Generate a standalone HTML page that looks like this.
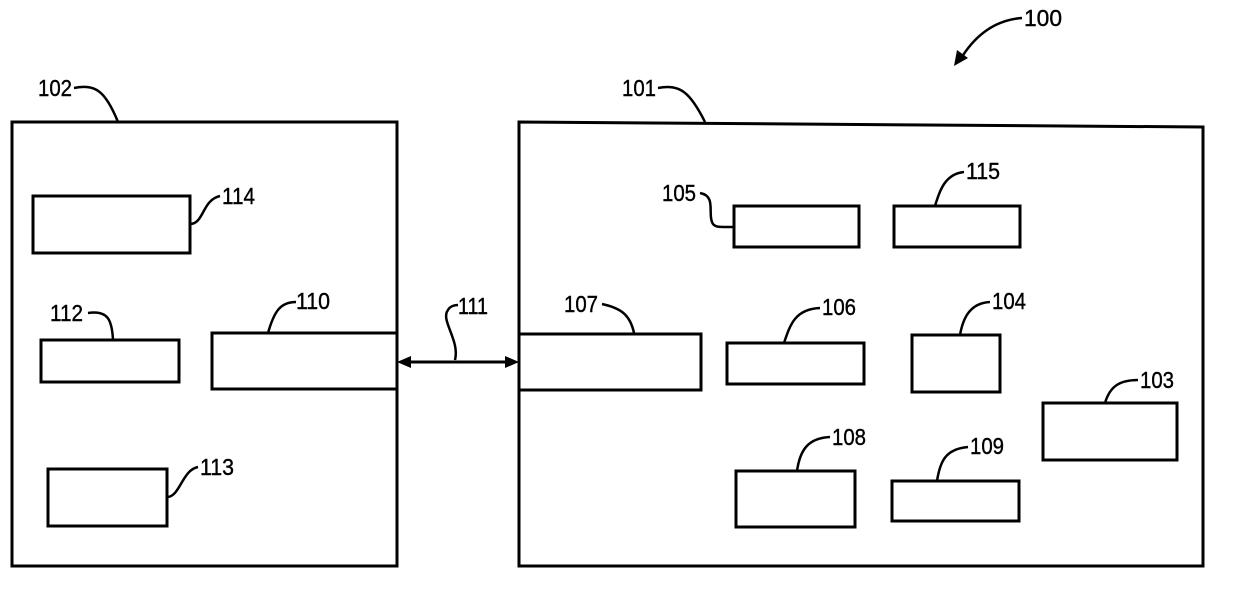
<!DOCTYPE html>
<html><head><style>body{margin:0;background:#fff}svg{display:block}text{font-family:"Liberation Sans",sans-serif;font-size:23px;fill:#000;stroke:#000;stroke-width:0.4}</style></head>
<body>
<svg width="1240" height="602" viewBox="0 0 1240 602" xmlns="http://www.w3.org/2000/svg">
<g fill="none" stroke="#000" stroke-width="3">
<rect x="12" y="122" width="385" height="444"/>
<polygon points="519,122 1203,127 1203,566 519,566"/>
<rect x="33" y="196" width="157" height="57"/>
<rect x="41" y="340" width="138" height="42"/>
<polyline points="397,333 212,333 212,389 397,389"/>
<rect x="48" y="469" width="119" height="57"/>
<polyline points="519,334 701,334 701,390 519,390"/>
<rect x="734" y="206" width="125" height="41"/>
<rect x="894" y="206" width="126" height="41"/>
<rect x="727" y="343" width="137" height="41"/>
<rect x="912" y="335" width="88" height="57"/>
<rect x="1043" y="403" width="134" height="57"/>
<rect x="736" y="471" width="119" height="56"/>
<rect x="892" y="481" width="127" height="40"/>
<g stroke-width="2.5">
<path d="M74,88 C95,84 105,90 118,122"/>
<path d="M658,88 C680,84 690,92 705,122"/>
<path d="M190,224 C204,224 202,200 220,196"/>
<path d="M88,313 C108,310 112,320 113,340"/>
<path d="M268,333 C274,312 280,302 296,302"/>
<path d="M455,360 C460,340 440,320 448,310 C450,306 455,305 458,305"/>
<path d="M634,333 C630,314 620,308 602,304"/>
<path d="M700,193 C716,196 708,212 712,222 C714,228 720,227 734,227"/>
<path d="M935,206 C940,190 945,174 964,172"/>
<path d="M784,343 C790,325 795,309 820,308"/>
<path d="M960,335 C963,318 970,303 990,302"/>
<path d="M1105,403 C1110,386 1120,380 1138,380"/>
<path d="M797,471 C800,450 808,438 830,437"/>
<path d="M937,481 C940,462 945,449 968,447"/>
<path d="M167,497 C180,497 182,470 198,467"/>
<path d="M1022,18 C995,20 975,35 960,60"/>
</g>
<line x1="402" y1="362" x2="514" y2="362"/>
</g>
<polygon points="397,362 411,356 411,368" fill="#000"/>
<polygon points="519,362 505,356 505,368" fill="#000"/>
<polygon points="954,66 957,50 968,58" fill="#000"/>
<g>
<text x="1024" y="26" textLength="38" lengthAdjust="spacingAndGlyphs">100</text>
<text x="38" y="96" textLength="34" lengthAdjust="spacingAndGlyphs">102</text>
<text x="622" y="96" textLength="34" lengthAdjust="spacingAndGlyphs">101</text>
<text x="222" y="204" textLength="33" lengthAdjust="spacingAndGlyphs">114</text>
<text x="50" y="321" textLength="33" lengthAdjust="spacingAndGlyphs">112</text>
<text x="296" y="309" textLength="34" lengthAdjust="spacingAndGlyphs">110</text>
<text x="458" y="314" textLength="30" lengthAdjust="spacingAndGlyphs">111</text>
<text x="564" y="312" textLength="34" lengthAdjust="spacingAndGlyphs">107</text>
<text x="662" y="201" textLength="34" lengthAdjust="spacingAndGlyphs">105</text>
<text x="966" y="179" textLength="34" lengthAdjust="spacingAndGlyphs">115</text>
<text x="822" y="315" textLength="34" lengthAdjust="spacingAndGlyphs">106</text>
<text x="992" y="309" textLength="34" lengthAdjust="spacingAndGlyphs">104</text>
<text x="1140" y="388" textLength="34" lengthAdjust="spacingAndGlyphs">103</text>
<text x="832" y="445" textLength="34" lengthAdjust="spacingAndGlyphs">108</text>
<text x="970" y="454" textLength="34" lengthAdjust="spacingAndGlyphs">109</text>
<text x="200" y="475" textLength="34" lengthAdjust="spacingAndGlyphs">113</text>
</g>
</svg>
</body></html>
